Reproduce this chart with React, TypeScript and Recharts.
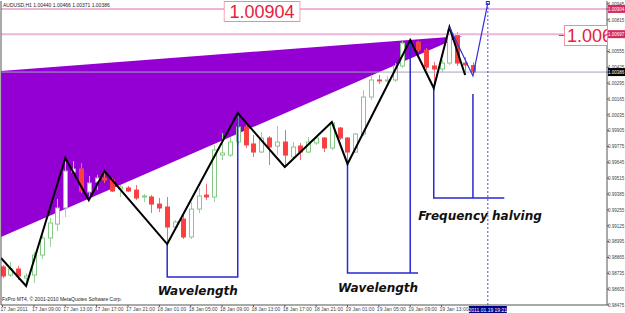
import React from 'react';
import { ComposedChart, XAxis, YAxis, Bar, Line, Area, Scatter, ReferenceLine } from 'recharts';

// AUDUSD H1, bar 0 = 17 Jan 2011 05:00
const opens = [
  0.98787, 0.98721, 0.9877, 0.98696, 0.98721, 0.98885, 0.99025, 0.99139, 0.99271, 0.99566,
  0.99591, 0.99402, 0.99484, 0.99517, 0.995, 0.99427, 0.99435, 0.99418, 0.99361, 0.99361,
  0.99303, 0.99279, 0.99115, 0.9918, 0.99033, 0.99262, 0.99377, 0.99361, 0.99705, 0.99705,
  0.99812, 0.99935, 0.99796, 0.9973, 0.99845, 0.99779, 0.99812, 0.99689, 0.99779, 0.9973,
  0.99804, 0.99845, 0.99763, 0.99927, 0.99845, 0.9973, 0.99878, 1.00181, 1.00321, 1.00313,
  1.00321, 1.00436, 1.00624, 1.00632, 1.00567, 1.00436, 1.00411, 1.0046, 1.0069, 1.0046,
  1.0044,
];
const highs = [
  0.98803, 0.98828, 0.98795, 0.98737, 0.9891, 0.99049, 0.99189, 0.99344, 0.99681, 0.99656,
  0.9964, 0.99533, 0.99541, 0.99574, 0.99517, 0.99459, 0.99451, 0.99459, 0.99386, 0.99377,
  0.99353, 0.99361, 0.99172, 0.99213, 0.9932, 0.99435, 0.99468, 0.99788, 0.99886, 0.99853,
  1.0005, 0.99952, 0.9987, 0.99894, 0.99861, 0.99943, 0.99911, 0.99812, 0.99804, 0.99853,
  0.99861, 0.99853, 0.99976, 0.99935, 0.99853, 0.99886, 1.00239, 1.00362, 1.00362, 1.00354,
  1.0046, 1.0064, 1.00649, 1.00641, 1.00583, 1.00468, 1.00485, 1.00755, 1.00714, 1.00509,
  1.00466,
];
const lows = [
  0.98696, 0.98705, 0.9868, 0.98631, 0.98655, 0.98852, 0.98951, 0.99082, 0.99197, 0.99541,
  0.99394, 0.99336, 0.99418, 0.99476, 0.99402, 0.99361, 0.99402, 0.99336, 0.9932, 0.9923,
  0.99238, 0.98975, 0.9909, 0.99016, 0.99016, 0.9923, 0.99336, 0.9932, 0.99664, 0.99689,
  0.99788, 0.99763, 0.99689, 0.99722, 0.99623, 0.99705, 0.99607, 0.99664, 0.99664, 0.99722,
  0.99788, 0.9973, 0.99746, 0.99829, 0.99632, 0.99722, 0.99861, 1.00157, 1.00288, 1.00296,
  1.00304, 1.00419, 1.00567, 1.0055, 1.00403, 1.00255, 1.00386, 1.00444, 1.00436, 1.00362,
  1.00371,
];
const closes = [
  0.98713, 0.9877, 0.98713, 0.98713, 0.98885, 0.99025, 0.99148, 0.99271, 0.99574, 0.99591,
  0.9941, 0.99476, 0.99517, 0.995, 0.9941, 0.99443, 0.9941, 0.99353, 0.99369, 0.99303,
  0.99271, 0.99115, 0.99156, 0.99033, 0.99262, 0.99369, 0.99361, 0.99746, 0.99722, 0.99812,
  0.99935, 0.99788, 0.9973, 0.99845, 0.99771, 0.99812, 0.99705, 0.99771, 0.9973, 0.99812,
  0.99845, 0.99763, 0.99968, 0.99845, 0.9973, 0.99878, 1.00181, 1.00321, 1.00313, 1.00321,
  1.00436, 1.00624, 1.00608, 1.00567, 1.00427, 1.00411, 1.0046, 1.00731, 1.0046, 1.00444,
  1.00386,
];

// time axis, one label every 4 bars
const timeTickBars = [0, 4, 8, 12, 16, 20, 24, 28, 32, 36, 40, 44, 48, 52, 56];
const timeTickLabels = [
  '17 Jan 2011', '17 Jan 09:00', '17 Jan 13:00', '17 Jan 17:00', '17 Jan 21:00',
  '18 Jan 01:00', '18 Jan 05:00', '18 Jan 09:00', '18 Jan 13:00', '18 Jan 17:00',
  '18 Jan 21:00', '19 Jan 01:00', '19 Jan 05:00', '19 Jan 09:00', '19 Jan 13:00',
];

const priceTicks = [
  0.98475, 0.98605, 0.98735, 0.98865, 0.98995, 0.99125, 0.99255, 0.99385, 0.99515, 0.99645,
  0.99775, 0.99905, 1.00035, 1.00165, 1.00295, 1.00425, 1.00555, 1.00815, 1.00945,
];
const markedPrices = [1.00904, 1.00697, 1.00386];
const markedColors = ['#d42a5c', '#d42a5c', '#000000'];

// zigzag pivots
const zigBars = [-0.2, 3, 8, 11, 13, 21, 30, 36, 42, 44, 52, 55, 57, 59];
const zigPrices = [
  0.98861, 0.98631, 0.99681, 0.99336, 0.99574, 0.98975, 1.0005, 0.99607, 0.99976, 0.99632,
  1.00649, 1.00255, 1.00755, 1.00362,
];

// blue projection
const projBars = [57, 60, 61.9];
const projPrices = [1.00755, 1.00354, 1.00952];

// wavelength brackets
const wave1Bars = [21, 21, 30, 30];
const wave1Prices = [0.98975, 0.98705, 0.98705, 1.0005];
const wave2Bars = [44, 44, 53, 52, 52];
const wave2Prices = [0.99632, 0.98737, 0.98737, 0.98737, 1.00649];
const halfBars = [55, 55, 64, 60, 60];
const halfPrices = [1.00255, 0.99353, 0.99353, 0.99353, 1.00206];

// purple triangle
const triBars = [-0.2, 58.6];
const triLow = [0.99033, 1.00682];
const triHigh = [1.00395, 1.00682];

const timeLineBar = 61.9;
const timeLineLabel = '2011.01.19 19:21';

const notes = [
  { x: 24.9, y: 0.98557, text: 'Wavelength' },
  { x: 47.9, y: 0.98582, text: 'Wavelength' },
  { x: 60.9, y: 0.99172, text: 'Frequency halving' },
];
const priceBoxes = [
  { x: 33.1, y: 1.00883, text: '1.00904', clip: false },
  { x: 71.6, y: 1.00686, text: '1.0069', clip: true },
];

const X_MIN = -0.2;
const X_MAX = 77.1;

const candles = opens.map((o, i) => ({
  x: i,
  open: o,
  high: highs[i],
  low: lows[i],
  close: closes[i],
  range: [lows[i], highs[i]],
}));
const toPts = (xs: number[], ys: number[]) => xs.map((x, i) => ({ x, y: ys[i] }));
const triangle = triBars.map((x, i) => ({ x, band: [triLow[i], triHigh[i]] }));
const hline = (p: number) => [{ x: X_MIN, y: p }, { x: X_MAX, y: p }];

const FONT = 'Liberation Sans, Arial, sans-serif';

function Candle(props: any) {
  const { x, y, width, height, payload } = props;
  if (x == null || y == null) return null;
  const top = Math.min(y, y + height);
  const h = Math.abs(height);
  const span = payload.high - payload.low || 1;
  const at = (p: number) => top + ((payload.high - p) / span) * h;
  const up = payload.close >= payload.open;
  const cx = Math.round(x + width / 2) + 0.5;
  const bTop = at(Math.max(payload.open, payload.close));
  const bBot = at(Math.min(payload.open, payload.close));
  return (
    <g>
      <line x1={cx} x2={cx} y1={top} y2={top + h} stroke={up ? '#9ad49a' : '#f06a7a'} strokeWidth={1} />
      <rect
        x={cx - 2}
        y={bTop}
        width={4}
        height={Math.max(bBot - bTop, 1)}
        fill={up ? '#ffffff' : '#ff3d3d'}
        stroke={up ? '#86c986' : '#f04848'}
        strokeWidth={1}
      />
    </g>
  );
}

function PriceTick(props: any) {
  const { x, y, payload } = props;
  const v = payload.value;
  const m = markedPrices.indexOf(v);
  if (m >= 0) {
    return (
      <g>
        <rect x={x - 1} y={y - 4} width={17} height={8} fill={markedColors[m]} />
        <text x={x - 1} y={y + 1.8} fontSize={4.5} fill="#fff" fontFamily={FONT}>{v.toFixed(5)}</text>
      </g>
    );
  }
  return (
    <text x={x - 1} y={y + 1.8} fontSize={4.5} fill="#444" fontFamily={FONT}>{v.toFixed(5)}</text>
  );
}

function TimeTick(props: any) {
  const { x, y, payload } = props;
  const i = timeTickBars.indexOf(payload.value);
  return (
    <text x={x - 2} y={y + 4} fontSize={5} fill="#444" fontFamily={FONT}>{timeTickLabels[i]}</text>
  );
}

function Note(props: any) {
  const { cx, cy, payload } = props;
  if (payload.kind === 'box') {
    const w = payload.clip ? 43 : 77;
    const left = payload.clip ? cx : cx - 38.5;
    return (
      <g>
        {payload.clip && <line x1={cx - 5} x2={cx} y1={cy} y2={cy} stroke="#e03040" />}
        <svg x={left} y={cy - 10.5} width={w} height={21} overflow="hidden">
          <rect x={0.5} y={0.5} width={payload.clip ? 60 : 76} height={20} fill="#fff" stroke="#f08a9a" />
          <text x={payload.clip ? 3 : 38.5} y={17} fontSize={18} fill="#e8203c" textAnchor={payload.clip ? 'start' : 'middle'} fontFamily={FONT}>
            {payload.text}
          </text>
        </svg>
      </g>
    );
  }
  return (
    <text x={cx} y={cy} textAnchor="middle" fontSize={12} fontWeight="bold" fontStyle="italic" fill="#111" fontFamily="DejaVu Sans, sans-serif">
      {payload.text}
    </text>
  );
}

function TimeLineLabel(props: any) {
  const vb = props.viewBox || {};
  const x = vb.x;
  const top = vb.y;
  const bottom = vb.y + vb.height;
  return (
    <g>
      <rect x={x - 1.5} y={top + 0.5} width={3} height={3} fill="none" stroke="#3030d0" />
      <rect x={x - 19} y={bottom + 1} width={38} height={7} fill="#000080" />
      <text x={x} y={bottom + 6.5} fontSize={5} fill="#fff" textAnchor="middle" fontFamily={FONT}>{timeLineLabel}</text>
    </g>
  );
}

export default function App() {
  const notePts = [
    ...notes.map((n) => ({ ...n, kind: 'text' })),
    ...priceBoxes.map((b) => ({ ...b, kind: 'box' })),
  ];
  return (
    <div style={{ position: 'absolute', left: 0, top: 0, width: 625, height: 313, background: '#fff' }}>
      <ComposedChart width={625} height={313} data={candles} margin={{ top: 1, right: 0, left: 1, bottom: 0 }}>
        <XAxis
          dataKey="x"
          type="number"
          domain={[X_MIN, X_MAX]}
          allowDataOverflow
          ticks={timeTickBars}
          interval={0}
          tick={<TimeTick />}
          tickSize={2}
          tickMargin={0}
          height={8}
          stroke="#555"
        />
        <YAxis
          orientation="right"
          type="number"
          domain={[0.98475, 1.00969]}
          allowDataOverflow
          ticks={[...priceTicks, ...markedPrices]}
          interval={0}
          tick={<PriceTick />}
          tickSize={2}
          tickMargin={0}
          width={18}
          stroke="#555"
        />
        <Area
          data={triangle}
          dataKey="band"
          type="linear"
          stroke="none"
          fill="#9400d3"
          fillOpacity={1}
          isAnimationActive={false}
        />
        <Line data={hline(markedPrices[0])} dataKey="y" stroke="#ebb6d8" strokeWidth={2} dot={false} isAnimationActive={false} />
        <Line data={hline(markedPrices[1])} dataKey="y" stroke="#ebb6d8" strokeWidth={2} dot={false} isAnimationActive={false} />
        <Line data={hline(markedPrices[2])} dataKey="y" stroke="#a0a4b8" strokeWidth={1} dot={false} isAnimationActive={false} />
        <Bar dataKey="range" barSize={5} shape={<Candle />} isAnimationActive={false} />
        <Line data={toPts(wave1Bars, wave1Prices)} dataKey="y" stroke="#2a2ad0" strokeWidth={1.5} dot={false} isAnimationActive={false} />
        <Line data={toPts(wave2Bars, wave2Prices)} dataKey="y" stroke="#2a2ad0" strokeWidth={1.5} dot={false} isAnimationActive={false} />
        <Line data={toPts(halfBars, halfPrices)} dataKey="y" stroke="#2a2ad0" strokeWidth={1.5} dot={false} isAnimationActive={false} />
        <Line data={toPts(zigBars, zigPrices)} dataKey="y" stroke="#000" strokeWidth={2} dot={false} isAnimationActive={false} />
        <Line data={toPts(projBars, projPrices)} dataKey="y" stroke="#3030e0" strokeWidth={1.2} dot={false} isAnimationActive={false} />
        <ReferenceLine x={X_MIN} stroke="#555" />
        <ReferenceLine x={timeLineBar} stroke="#4848e0" strokeDasharray="2 2" label={<TimeLineLabel />} />
        <Scatter data={notePts} dataKey="y" shape={<Note />} isAnimationActive={false} />
      </ComposedChart>
      <div style={{ position: 'absolute', left: 3, top: 2, fontSize: 5, fontFamily: FONT, color: '#222', whiteSpace: 'nowrap', lineHeight: '7px' }}>
        AUDUSD,H1 1.00440 1.00466 1.00371 1.00386
      </div>
      <div style={{ position: 'absolute', left: 2, top: 296, fontSize: 5, fontFamily: FONT, color: '#222', whiteSpace: 'nowrap', lineHeight: '6px' }}>
        FxPro MT4, © 2001-2010 MetaQuotes Software Corp.
      </div>
    </div>
  );
}
